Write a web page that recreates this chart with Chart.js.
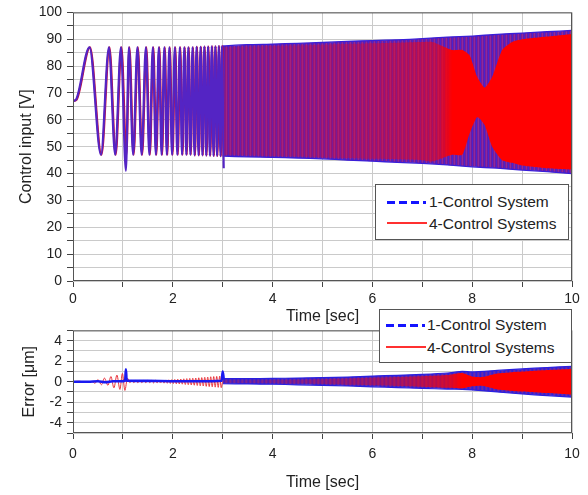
<!DOCTYPE html>
<html>
<head>
<meta charset="utf-8">
<script src="https://cdn.jsdelivr.net/npm/chart.js@4/dist/chart.umd.min.js"></script>
<style>
  html, body { margin: 0; padding: 0; background: #fff; }
  #wrap { position: relative; width: 588px; height: 495px; font-family: "Liberation Sans", Arial, sans-serif; color: #222; }
  #wrap canvas { position: absolute; left: 0; display: block; }
  .legend { position: absolute; background: #fff; border: 1px solid #555; box-sizing: border-box; font-size: 15.5px; }
  .legend span { position: absolute; white-space: nowrap; line-height: 18px; }
  .legend b { position: absolute; display: block; }
  .dash { height: 3px; background: repeating-linear-gradient(90deg, #1414ff 0 8px, transparent 8px 12px); }
  .solid { height: 2px; background: #ff3030; }
</style>
</head>
<body>
<div id="wrap">
  <canvas id="top" width="588" height="326" style="top:0px"></canvas>
  <canvas id="bottom" width="588" height="170" style="top:325px"></canvas>

  <div class="legend" style="left:375px;top:184px;width:194px;height:56px">
    <b class="dash" style="left:11px;top:16px;width:39px"></b>
    <span style="left:53px;top:8px">1-Control System</span>
    <b class="solid" style="left:11px;top:37px;width:40px"></b>
    <span style="left:53px;top:30px">4-Control Systems</span>
  </div>
  <div class="legend" style="left:379px;top:309px;width:193px;height:54px">
    <b class="dash" style="left:6px;top:14px;width:39px"></b>
    <span style="left:47px;top:6px">1-Control System</span>
    <b class="solid" style="left:6px;top:36px;width:40px"></b>
    <span style="left:47px;top:29px">4-Control Systems</span>
  </div>
</div>

<script>
// values (time in sec)

// control input, 0..3 s: turning points of the chirp
const topBlueT = [0, 0.06, 0.33, 0.56, 0.72, 0.845, 0.96, 1.06, 1.12, 1.205, 1.29, 1.375, 1.46, 1.53, 1.6, 1.66,
  1.72, 1.775, 1.83, 1.88, 1.93, 1.985, 2.04, 2.09, 2.14, 2.185, 2.23, 2.27, 2.31, 2.352, 2.395, 2.435,
  2.475, 2.515, 2.555, 2.592, 2.63, 2.668, 2.705, 2.742, 2.78, 2.815, 2.85, 2.885, 2.92, 2.955, 2.985, 3.02];
const topBlueV = [67, 67.5, 87, 47, 87, 47, 87, 41, 87, 47, 87, 47, 87, 47, 87, 47,
  87, 47, 87, 47, 87, 47, 87, 47, 87, 47, 87, 47, 87, 47, 87, 46.8,
  87.2, 46.8, 87.2, 46.8, 87.3, 46.7, 87.3, 46.7, 87.4, 46.6, 87.4, 46.6, 87.5, 46.5, 87.5, 42];
const topRedT = [0, 0.07, 0.34, 0.57, 0.73, 0.855, 0.97, 1.07, 1.13, 1.215, 1.3, 1.385, 1.47, 1.54, 1.61, 1.67,
  1.73, 1.785, 1.84, 1.89, 1.94, 1.995, 2.05, 2.1, 2.15, 2.195, 2.24, 2.28, 2.32, 2.36, 2.405, 2.445,
  2.485, 2.525, 2.565, 2.602, 2.64, 2.678, 2.715, 2.752, 2.79, 2.825, 2.86, 2.895, 2.93, 2.965, 2.995, 3.02];
const topRedV = [67, 67.5, 87, 47, 87, 47, 87, 47, 87, 47, 87, 47, 87, 47, 87, 47,
  87, 47, 87, 47, 87, 47, 87, 47, 87, 47, 87, 47, 87, 47, 87, 46.8,
  87.2, 46.8, 87.2, 46.8, 87.3, 46.7, 87.3, 46.7, 87.4, 46.6, 87.4, 46.6, 87.5, 46.5, 87.5, 46.5];

// control input, 3..10 s: the oscillation is too dense to resolve, read as envelopes
const topBandT = [3, 3.5, 4, 4.5, 5, 5.5, 6, 6.5, 7, 7.5, 8, 8.5, 9, 9.5, 10];
const topBlueHi = [87.5, 88, 88.2, 88.5, 88.8, 89.2, 89.5, 89.8, 90.2, 90.8, 91.2, 91.8, 92.3, 92.8, 93.3];
const topBlueLo = [46.5, 46.2, 46, 45.8, 45.5, 45, 44.6, 44.2, 43.8, 43.2, 42.5, 42, 41.3, 40.7, 40];
const topRedBandT = [3, 4, 5, 6, 7, 7.2, 7.6, 7.8, 7.95, 8.1, 8.25, 8.4, 8.6, 8.8, 9, 9.5, 10];
const topRedHi = [87, 87.5, 88, 88.5, 89, 89, 86, 86, 84, 76, 72, 76, 86, 89, 90, 91, 92];
const topRedLo = [47, 46.5, 46, 45.5, 45, 44.5, 47, 47, 55, 61, 58, 50, 45, 44, 43, 42, 41.5];

// error, 0..3 s
const errBlueT = [0, 0.3, 0.5, 0.65, 0.8, 1.0, 1.045, 1.06, 1.075, 1.5, 2.0, 2.5, 2.98, 3.0, 3.02];
const errBlueV = [0, 0, 0.05, -0.05, 0.05, 0.05, 0.1, 1.2, 0.1, 0.08, 0.05, 0.05, 0.1, 1.0, 0.25];
const errRedT = [0, 0.12, 0.2, 0.38, 0.44, 0.5, 0.57, 0.63, 0.7, 0.76, 0.82, 0.88, 0.94, 0.99, 1.04, 1.09, 1.14,
  1.18, 1.22, 1.26, 1.3, 1.34, 1.38, 1.42, 1.46, 1.5, 1.54, 1.58, 1.615, 1.65, 1.685, 1.72, 1.755, 1.79, 1.825,
  1.86, 1.89, 1.92, 1.95, 1.98, 2.01, 2.04, 2.07, 2.1, 2.13, 2.16, 2.19, 2.22, 2.25, 2.28, 2.31, 2.34, 2.37,
  2.4, 2.43, 2.46, 2.49, 2.52, 2.55, 2.58, 2.61, 2.64, 2.67, 2.7, 2.73, 2.76, 2.79, 2.82, 2.85, 2.88, 2.91,
  2.94, 2.97, 3.0];
const errRedV = [0, 0.05, 0, 0, -0.15, 0.2, -0.3, 0.35, -0.35, 0.5, -0.6, 0.65, -0.75, 0.8, -0.85, 0.35, -0.1,
  0.12, -0.1, 0.12, -0.1, 0.12, -0.1, 0.12, -0.1, 0.13, -0.1, 0.13, -0.12, 0.14, -0.12, 0.15, -0.13, 0.16, -0.14,
  0.17, -0.15, 0.18, -0.17, 0.2, -0.18, 0.22, -0.2, 0.24, -0.22, 0.26, -0.24, 0.28, -0.27, 0.3, -0.29, 0.32, -0.32,
  0.34, -0.34, 0.36, -0.37, 0.38, -0.4, 0.4, -0.42, 0.43, -0.45, 0.45, -0.48, 0.48, -0.5, 0.5, -0.53, 0.52, -0.55,
  0.55, -0.58, 0.1];

// error, 3..10 s envelopes
const errBandT = [3, 3.5, 4, 4.5, 5, 5.5, 6, 6.5, 7, 7.5, 7.8, 8, 8.5, 9, 9.5, 10];
const errBlueHi = [0.3, 0.3, 0.32, 0.35, 0.4, 0.45, 0.55, 0.62, 0.72, 0.85, 1.0, 0.95, 1.1, 1.25, 1.38, 1.5];
const errBlueLo = [-0.2, -0.22, -0.25, -0.3, -0.35, -0.42, -0.5, -0.58, -0.65, -0.72, -0.75, -0.8, -1.0, -1.2, -1.35, -1.5];
const errRedBandT = [3, 3.5, 4.5, 5.5, 6.5, 7.5, 7.8, 8.0, 8.2, 8.5, 9, 9.5, 10];
const errRedHi = [0.15, 0.15, 0.2, 0.32, 0.45, 0.65, 0.85, 0.5, 0.45, 0.8, 1.0, 1.15, 1.25];
const errRedLo = [-0.1, -0.12, -0.18, -0.3, -0.42, -0.6, -0.65, -0.45, -0.4, -0.75, -0.95, -1.1, -1.25];

const timeTicks = [0, 2, 4, 6, 8, 10];

const FONT = '"Liberation Sans", Arial, sans-serif';

function pts(xs, ys) {
  return xs.map((x, i) => ({ x: x, y: ys[i] }));
}

// horizontal colour ramp across the time axis
function ramp(stops) {
  return function (ctx) {
    const chart = ctx.chart;
    if (!chart.chartArea) return 'rgba(0,0,0,0)';
    const sx = chart.scales.x;
    const g = chart.ctx.createLinearGradient(sx.getPixelForValue(0), 0, sx.getPixelForValue(10), 0);
    stops.forEach(s => g.addColorStop(s[0] / 10, s[1]));
    return g;
  };
}

// fine vertical streaks, like the unresolved oscillation strokes
function streaks(cols) {
  const c = document.createElement('canvas');
  c.width = cols.length;
  c.height = 1;
  const cx = c.getContext('2d');
  cols.forEach((col, i) => { cx.fillStyle = col; cx.fillRect(i, 0, 1, 1); });
  return cx.createPattern(c, 'repeat');
}

const frame = {
  id: 'frame',
  afterDatasetsDraw(chart) {
    const { ctx, chartArea: a } = chart;
    ctx.save();
    ctx.strokeStyle = '#555';
    ctx.lineWidth = 1;
    ctx.strokeRect(a.left + 0.5, a.top + 0.5, a.width - 1, a.height - 1);
    ctx.restore();
  }
};

function xAxis(axisH, tickPad, titlePadBottom) {
  return {
    type: 'linear', min: 0, max: 10,
    afterFit: s => { s.height = axisH; },
    ticks: {
      stepSize: 1, autoSkip: false, maxRotation: 0, padding: tickPad, color: '#222',
      font: { size: 14, family: FONT },
      callback: v => timeTicks.includes(v) ? String(v) : ''
    },
    grid: { color: '#cacaca', tickColor: '#444', tickLength: 6 },
    border: { display: false },
    title: {
      display: true, text: 'Time [sec]', color: '#222',
      font: { size: 16, family: FONT },
      padding: { top: 0, bottom: titlePadBottom }
    }
  };
}

function yAxis(min, max, step, labels, title, titlePadTop) {
  return {
    min: min, max: max,
    afterFit: s => { s.width = 73; },
    ticks: {
      stepSize: step, autoSkip: false, padding: 5, color: '#222',
      font: { size: 14, family: FONT },
      callback: v => labels.includes(v) ? String(v) : ''
    },
    grid: { color: '#cacaca', tickColor: '#444', tickLength: 6 },
    border: { display: false },
    title: {
      display: true, text: title, color: '#222',
      font: { size: 16, family: FONT },
      padding: { top: titlePadTop, bottom: 0 }
    }
  };
}

function lineSet(data, color, width, order) {
  return {
    data: data, borderColor: color, borderWidth: width,
    pointRadius: 0, fill: false, cubicInterpolationMode: 'monotone', order: order
  };
}

function bandEdge(data, color, width, order) {
  return { data: data, borderColor: color, borderWidth: width, pointRadius: 0, fill: false, tension: 0.2, order: order };
}

const common = {
  responsive: false, maintainAspectRatio: false, animation: false, devicePixelRatio: 1,
  plugins: { legend: { display: false }, tooltip: { enabled: false } }
};

// build the chart, then shift/resize its canvas so the plot top lands on pageTop
// (the x axis has a fixed height, so the plot bottom is pageEnd - axis height)
function place(id, makeConfig, pageTop, pageEnd) {
  const canvas = document.getElementById(id);
  let chart = new Chart(canvas, makeConfig());
  const sy = chart.scales.y;
  const top0 = Math.round(pageTop - sy.getPixelForValue(sy.max));
  const cur = parseFloat(canvas.style.top) || 0;
  if (top0 !== cur) {
    chart.destroy();
    canvas.style.top = top0 + 'px';
    canvas.width = 588;
    canvas.height = pageEnd - top0;
    canvas.style.width = '588px';
    canvas.style.height = (pageEnd - top0) + 'px';
    chart = new Chart(canvas, makeConfig());
  }
  return chart;
}

place('top', () => ({
  type: 'line',
  data: {
    datasets: [
      lineSet(pts(topBlueT, topBlueV), '#5424c4', 2.2, 1),
      lineSet(pts(topRedT, topRedV), '#c8103c', 2.2, 2),
      bandEdge(pts(topBandT, topBlueHi), '#3a1ed8', 1.3, 5),
      Object.assign(bandEdge(pts(topBandT, topBlueLo), '#3a1ed8', 1.3, 5),
        { fill: 2, backgroundColor: streaks(['#4a24cc', '#7a1c98', '#8e2a9c', '#6a1aa4']) }),
      bandEdge(pts(topRedBandT, topRedHi), 'rgba(0,0,0,0)', 0, 4),
      Object.assign(bandEdge(pts(topRedBandT, topRedLo), 'rgba(0,0,0,0)', 0, 4),
        { fill: 4, backgroundColor: ramp([[0, 'rgba(255,0,0,0.15)'], [3, 'rgba(255,0,0,0.15)'], [5, 'rgba(255,0,0,0.25)'],
          [6.5, 'rgba(255,0,0,0.4)'], [7.3, 'rgba(255,0,0,0.5)'], [7.6, 'rgba(255,0,0,1)'], [10, 'rgba(255,0,0,1)']]) })
    ]
  },
  options: Object.assign({}, common, {
    layout: { padding: { left: 0, right: 16, top: 12, bottom: 0 } },
    scales: {
      x: xAxis(45, 4, 0),
      y: yAxis(0, 100, 5, [0, 10, 20, 30, 40, 50, 60, 70, 80, 90, 100], 'Control input [V]', 17)
    }
  }),
  plugins: [frame]
}), 12, 326);

place('bottom', () => ({
  type: 'line',
  data: {
    datasets: [
      lineSet(pts(errBlueT, errBlueV), '#1a1af0', 2.6, 1),
      lineSet(pts(errRedT, errRedV), '#e8343c', 1, 2),
      bandEdge(pts(errBandT, errBlueHi), '#2a20e0', 1.2, 5),
      Object.assign(bandEdge(pts(errBandT, errBlueLo), '#2a20e0', 1.2, 5),
        { fill: 2, backgroundColor: streaks(['#3020d8', '#5a26b4', '#6a2aa8', '#4424c8']) }),
      bandEdge(pts(errRedBandT, errRedHi), 'rgba(0,0,0,0)', 0, 4),
      Object.assign(bandEdge(pts(errRedBandT, errRedLo), 'rgba(0,0,0,0)', 0, 4),
        { fill: 4, backgroundColor: ramp([[0, 'rgba(255,0,0,0.12)'], [3.5, 'rgba(255,0,0,0.12)'], [6.5, 'rgba(255,0,0,0.45)'],
          [7.5, 'rgba(255,0,0,0.7)'], [7.8, 'rgba(255,0,0,1)'], [10, 'rgba(255,0,0,1)']]) })
    ]
  },
  options: Object.assign({}, common, {
    layout: { padding: { left: 0, right: 16, top: 5, bottom: 0 } },
    scales: {
      x: xAxis(62, 7, 3),
      y: yAxis(-5, 5, 1, [-4, -2, 0, 2, 4], 'Error [\u03bcm]', 20)
    }
  }),
  plugins: [frame]
}), 330, 495);
</script>
</body>
</html>
